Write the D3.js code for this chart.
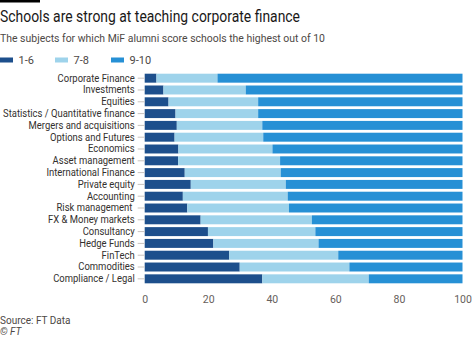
<!DOCTYPE html>
<html><head><meta charset="utf-8">
<script src="https://cdn.jsdelivr.net/npm/d3@7"></script>
<style>
html,body{margin:0;padding:0;background:#fff;}
svg{display:block;font-family:Roboto,"Open Sans",sans-serif;}
</style></head>
<body>
<svg id="c" width="474" height="338"></svg>
<script>
const categories = ["Corporate Finance","Investments","Equities","Statistics / Quantitative finance","Mergers and acquisitions","Options and Futures","Economics","Asset management","International Finance","Private equity","Accounting","Risk management ","FX & Money markets","Consultancy","Hedge Funds","FinTech","Commodities","Compliance / Legal"];
const score1to6 = [3.7,5.9,7.5,9.7,10.1,9.4,10.6,10.5,12.6,14.5,12.0,13.4,17.6,19.9,21.6,26.6,29.9,37.0];
const score7to8 = [19.2,25.9,28.2,26.0,26.9,27.9,29.6,32.1,30.2,29.9,33.0,32.0,35.0,33.8,33.1,34.3,34.5,33.5];
const score9to10 = [77.1,68.2,64.3,64.3,63.0,62.7,59.8,57.4,57.2,55.6,55.0,54.6,47.4,46.3,45.3,39.1,35.6,29.5];
const seriesNames = ["1-6","7-8","9-10"];
const xTicks = [0,20,40,60,80,100];
const colors = ["#1d4f8c","#9ed3eb","#2690d5"];

function condense(sel, f){
  sel.each(function(){
    const L = this.getComputedTextLength();
    if (L > 0) d3.select(this).attr("textLength", L*f).attr("lengthAdjust","spacingAndGlyphs");
  });
}

const svg = d3.select("#c");
svg.append("rect").attr("x",0).attr("y",0).attr("width",40).attr("height",2.5).attr("fill","#000");
svg.append("text").attr("x",0).attr("y",22).attr("font-size",16).attr("fill","#1a1817")
  .attr("textLength",300).attr("lengthAdjust","spacingAndGlyphs")
  .text("Schools are strong at teaching corporate finance");
svg.append("text").attr("x",0).attr("y",42).attr("font-size",11.5).attr("fill","#4d4845")
  .attr("textLength",325).attr("lengthAdjust","spacingAndGlyphs")
  .text("The subjects for which MiF alumni score schools the highest out of 10");

const legX = [0,55,111];
seriesNames.forEach((n,i)=>{
  svg.append("rect").attr("x",legX[i]).attr("y",57.5).attr("width",13).attr("height",5).attr("fill",colors[i]);
  svg.append("text").attr("x",legX[i]+18.5).attr("y",64).attr("font-size",11).attr("fill","#4d4845").text(n);
});

const rows = categories.map((c,i)=>({cat:c,"1-6":score1to6[i],"7-8":score7to8[i],"9-10":score9to10[i]}));
const stack = d3.stack().keys(seriesNames)(rows);

const x = d3.scaleLinear().domain([0,100]).range([144.7,462.5]);
const y = d3.scaleBand().domain(categories).range([73.7,283.3]).paddingInner(0.24).paddingOuter(0);

const g = svg.append("g");
stack.forEach((s,i)=>{
  g.selectAll(null).data(s).join("rect")
    .attr("x",d=>x(d[0])).attr("width",d=>x(d[1])-x(d[0]))
    .attr("y",d=>y(d.data.cat)).attr("height",y.bandwidth())
    .attr("fill",colors[i]);
});

const yAxis = svg.append("g").attr("transform","translate(144.7,0)")
  .call(d3.axisLeft(y).tickSize(7).tickPadding(3));
yAxis.select(".domain").remove();
yAxis.selectAll(".tick line").attr("stroke","#c8c3bf");
yAxis.selectAll(".tick text").attr("font-size",10.5).attr("fill","#33302e").attr("font-family","Roboto,sans-serif").style("white-space","pre")
  .call(condense,0.9);

const xAxis = svg.append("g").attr("transform","translate(0,287)")
  .call(d3.axisBottom(x).tickValues(xTicks).tickSize(0).tickPadding(9));
xAxis.select(".domain").remove();
xAxis.selectAll(".tick text").attr("font-size",10.5).attr("fill","#66605c").attr("font-family","Roboto,sans-serif");

svg.append("text").attr("x",0).attr("y",324).attr("font-size",10).attr("fill","#4d4845").text("Source: FT Data");
svg.append("text").attr("x",0).attr("y",335).attr("font-size",10).attr("font-style","italic").attr("fill","#4d4845").text("© FT");
</script>
</body></html>
